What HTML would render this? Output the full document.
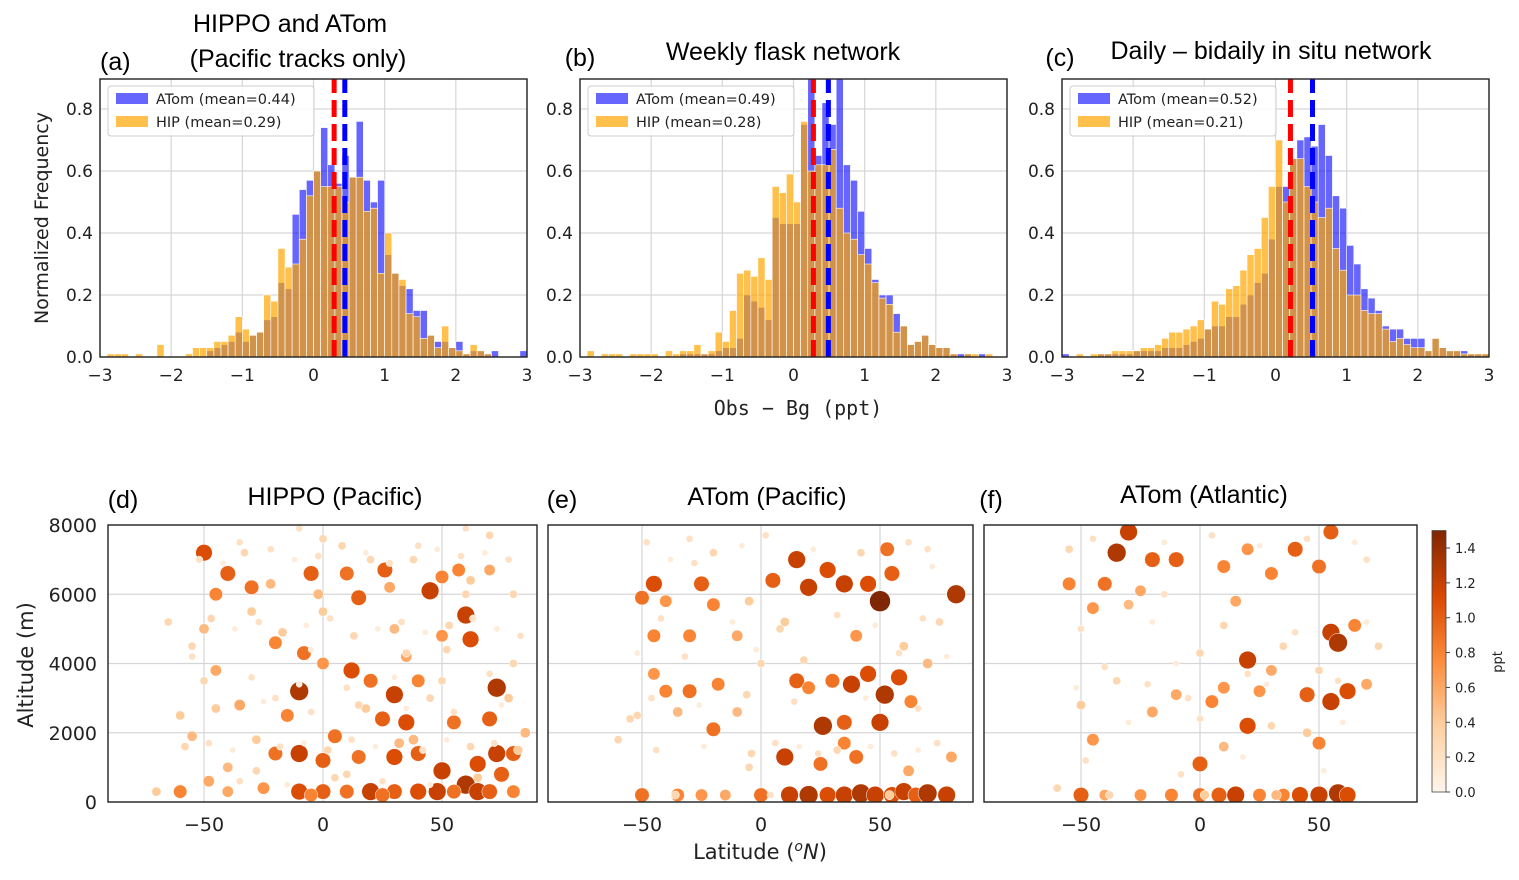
<!DOCTYPE html>
<html><head><meta charset="utf-8"><style>
body{margin:0;background:#fff;width:1519px;height:880px;overflow:hidden}
svg{display:block;font-family:"Liberation Sans","DejaVu Sans",sans-serif}
.tk{font-family:"DejaVu Sans","Liberation Sans",sans-serif;font-size:17px;fill:#222}
.ttl{font-size:25px;fill:#000}
.lg{font-family:"DejaVu Sans",sans-serif;font-size:14.5px;fill:#222}
</style></head><body>
<svg id="fig" width="1519" height="880">
<g id="topg"></g><g id="botg"></g>
<text x="100" y="70" class="ttl">(a)</text>
<text x="290" y="32" class="ttl" text-anchor="middle">HIPPO and ATom</text>
<text x="298" y="67" class="ttl" text-anchor="middle">(Pacific tracks only)</text>
<text x="580" y="66" class="ttl" text-anchor="middle">(b)</text>
<text x="783" y="60" class="ttl" text-anchor="middle">Weekly flask network</text>
<text x="1060" y="66" class="ttl" text-anchor="middle">(c)</text>
<text x="1271" y="59" class="ttl" text-anchor="middle">Daily – bidaily in situ network</text>
<text transform="translate(48,218) rotate(-90)" text-anchor="middle" style="font-family:'DejaVu Sans',sans-serif;font-size:19px;fill:#222">Normalized Frequency</text>
<text x="798" y="415" text-anchor="middle" style="font-family:'DejaVu Sans Mono','Liberation Mono',monospace;font-size:20px;fill:#222">Obs − Bg (ppt)</text>
<text x="123" y="508" class="ttl" text-anchor="middle">(d)</text>
<text x="335" y="505" class="ttl" text-anchor="middle">HIPPO (Pacific)</text>
<text x="562" y="508" class="ttl" text-anchor="middle">(e)</text>
<text x="767" y="505" class="ttl" text-anchor="middle">ATom (Pacific)</text>
<text x="991" y="508" class="ttl" text-anchor="middle">(f)</text>
<text x="1204" y="503" class="ttl" text-anchor="middle">ATom (Atlantic)</text>
<text transform="translate(33,665) rotate(-90)" text-anchor="middle" style="font-family:'DejaVu Sans',sans-serif;font-size:21px;fill:#222">Altitude (m)</text>
<text x="760" y="859" text-anchor="middle" style="font-family:'DejaVu Sans',sans-serif;font-size:21px;fill:#222">Latitude (<tspan dy="-8" font-size="14" font-style="italic">o</tspan><tspan dy="8" font-style="italic">N</tspan>)</text>
</svg>
<script>
// ---------- histogram data (bins of 0.1 from -3.0 to 3.0) ----------
const binStart = -3.0, binWidth = 0.1;
const atomA = [0,0,0,0,0,0,0,0,0,0,0,0,0,0,0,.02,.03,.04,.05,.08,.05,.07,.08,.12,.13,.24,.22,.46,.54,.57,.6,.74,.62,.56,.65,.58,.76,.57,.5,.57,.33,.27,.23,.22,.15,.15,.07,.05,.05,.03,.05,.01,.02,.02,.01,.02,0,0,0,.02];
const hipA  = [0,.01,.01,.01,0,.01,0,0,.04,0,0,0,.01,.03,.03,.03,.05,.05,.07,.13,.09,.07,.08,.2,.18,.35,.29,.3,.38,.52,.6,.55,.55,.55,.5,.58,.58,.47,.48,.27,.4,.27,.25,.14,.13,.06,.07,.03,.1,.03,.02,.01,.04,.02,.01,0,0,0,0,0];
const atomB = [0,0,0,0,0,0,0,0,0,0,0,0,0,0,.01,.01,.01,.01,.01,.02,.03,.03,.06,.2,.18,.16,.12,.45,.43,.43,.43,.75,1.0,.65,.82,.75,1.0,.62,.57,.47,.35,.25,.2,.2,.14,.1,.04,.05,.07,.04,.03,.03,.01,.01,.01,0,.01,0,0,0];
const hipB  = [0,.02,0,.01,.01,.01,0,.01,.01,.01,.01,0,.02,.01,.02,.02,.04,.01,.02,.08,.05,.15,.27,.28,.26,.32,.25,.55,.53,.59,.5,.76,.6,.62,.62,.67,.48,.4,.38,.33,.3,.24,.19,.17,.08,.1,.04,.05,.07,.04,.03,.03,.01,0,.01,.01,0,.01,0,0];
const atomC = [.01,0,0,0,0,.01,.01,.01,.01,.01,.02,.02,.02,.02,.03,.03,.03,.04,.05,.06,.09,.1,.1,.13,.13,.17,.2,.24,.27,.38,.55,.55,.64,.7,.71,.68,.75,.65,.52,.48,.36,.3,.22,.19,.15,.1,.09,.09,.06,.06,.06,.02,.06,.03,.02,.02,.02,.01,.01,.01];
const hipC  = [0,0,.01,0,.01,.01,.01,.02,.02,.02,.02,.03,.03,.04,.06,.08,.08,.09,.1,.12,.09,.18,.17,.22,.23,.28,.33,.35,.45,.55,.7,.5,.64,.64,.55,.5,.45,.48,.35,.28,.2,.2,.15,.14,.14,.09,.05,.06,.04,.03,.03,.02,.06,.03,.02,.02,.01,.01,.01,.01];
const meansAtom = [0.44, 0.49, 0.52];
const meansHip  = [0.29, 0.28, 0.21];
const xTicksTop = [-3,-2,-1,0,1,2,3];
const yTicksTop = [0,0.2,0.4,0.6,0.8];

// ---------- scatter data: latitude, altitude (m), value (ppt) ----------
const dLat = [-10,-8,30,35,45,60,62,73,73,-50,-40,-30,-5,15,10,26,50,57,70,-45,-20,0,12,20,40,-45,-35,-15,5,25,55,70,-20,-10,0,15,30,40,50,65,75,80,60,65,-60,-40,-25,-10,0,10,20,30,40,48,55,70,80,-5,25,-55,-50,-30,0,30,60,80,-55,-35,0,40,70,-20,45,80,-60,20,-10,60,85,-40,10,35,50,-2,-70,-65,5,-28,18,38,52,-48,78,
 -52,-42,-33,-22,-12,-2,8,18,28,38,48,58,68,78,-47,-37,-27,-17,-7,3,13,23,33,43,53,63,73,83,-50,-30,-10,10,30,50,70,-45,-25,-5,15,35,55,75,-58,-48,-38,-28,-18,-8,2,12,22,32,42,52,62,72,82,-35,-15,5,25,45,65,-55,-5,35,-22,28,62,-40,15,50];
const dAlt = [3200,4300,3100,2300,6100,5400,4700,3300,1400,7200,6600,6200,6600,5900,6600,6700,6500,6700,6700,6000,4600,4000,3800,3500,3500,3800,2800,2500,1900,2400,2300,2400,1400,1400,1200,1300,1300,1400,900,1100,800,1400,500,300,300,300,400,300,300,300,300,300,300,300,300,300,300,200,200,1900,5000,5500,5500,5000,6000,6000,4500,7500,7600,7400,7700,3000,3000,4000,2500,7000,7900,7900,2000,1000,800,4200,4800,6000,300,5200,700,900,2700,1800,4400,600,3000,
 7000,6900,7200,7300,7000,7100,7400,7200,6900,7000,7300,7100,7200,7000,5300,5000,5200,4900,5100,5300,4800,5000,5200,4900,5100,5300,5000,4800,3500,3600,3400,3300,3600,3500,3700,2700,2900,2600,2800,2700,2600,2800,1600,1700,1500,1800,1600,1700,1500,1800,1600,1700,1500,1800,1600,1700,1500,600,500,700,600,500,700,4200,4400,4300,6300,6200,6400,200,200,200];
const dVal = [1.3,0.9,1.2,1.1,1.2,1.2,1.1,1.3,1.2,1.1,1.0,0.9,1.0,1.0,0.9,1.0,0.8,0.8,0.6,0.8,0.8,0.7,1.1,0.9,0.8,0.6,0.6,0.8,0.9,1.0,0.9,1.0,0.9,1.2,1.0,0.9,1.1,1.0,1.2,1.1,1.0,1.0,1.3,1.2,0.8,0.6,0.7,1.1,1.0,0.9,1.2,1.0,1.1,1.2,0.9,1.0,0.8,0.8,0.9,0.5,0.5,0.4,0.4,0.5,0.3,0.3,0.3,0.2,0.3,0.2,0.3,0.2,0.3,0.3,0.4,0.3,0.2,0.2,0.5,0.5,0.3,0.6,0.7,0.5,0.4,0.3,0.2,0.3,0.4,0.5,0.3,0.6,0.4,
 0.2,0.1,0.3,0.2,0.1,0.2,0.3,0.1,0.2,0.3,0.1,0.2,0.1,0.2,0.3,0.1,0.2,0.4,0.1,0.2,0.3,0.1,0.2,0.1,0.3,0.2,0.1,0.2,0.3,0.2,0.1,0.2,0.1,0.3,0.2,0.4,0.1,0.2,0.3,0.1,0.2,0.1,0.3,0.2,0.1,0.4,0.2,0.1,0.3,0.2,0.1,0.5,0.2,0.1,0.3,0.2,0.4,0.2,0.1,0.3,0.2,0.1,0.4,0.2,0.1,0.3,0.5,0.6,0.4];
const eLat = [-45,-25,-50,-40,-20,5,15,20,28,35,45,50,55,53,82,-45,-30,-10,-45,-40,-30,-18,-35,-20,15,20,30,38,45,52,58,63,35,26,50,-10,10,25,35,40,80,-50,-35,-25,-15,0,12,20,28,35,42,48,55,60,65,70,78,-55,-5,0,60,75,-30,70,-60,-5,40,70,-20,10,62,-52,
 -48,-38,-28,-8,2,22,42,62,72,-42,-12,8,32,48,68,-52,-32,-2,18,58,78,-46,-26,-6,14,44,66,-44,-24,-4,6,16,24,32,46,56,66,74,-36,4,54];
const eAlt = [6300,6300,5900,5800,5700,6400,7000,6200,6700,6300,6300,5800,6600,7300,6000,4800,4800,4800,3700,3200,3200,3400,2600,2100,3500,3300,3500,3400,3700,3100,3600,2900,2300,2200,2300,2600,1300,1100,1700,1300,1300,200,200,200,200,200,200,200,200,200,250,200,200,300,200,250,200,2400,5800,4000,4500,5200,7600,7300,1800,1000,4800,4000,7200,5200,900,2500,
 7500,7000,6900,7400,7700,7300,7200,7500,6800,5300,5200,5000,5400,5100,5300,4300,4200,4400,4100,4300,4200,3000,2800,3100,2900,3000,2700,1500,1600,1400,1700,1600,1400,1500,1600,1400,1500,1700,200,200,200];
const eVal = [1.1,1.0,0.9,0.7,0.8,1.0,1.2,1.2,1.1,1.2,1.1,1.5,1.0,0.9,1.3,0.8,0.8,0.6,0.7,0.8,0.9,0.8,0.5,0.9,1.0,0.8,0.9,1.2,1.1,1.3,1.1,0.8,1.0,1.3,1.2,0.5,1.2,0.9,0.8,0.9,0.6,0.9,0.8,0.7,0.6,0.9,1.2,1.3,1.1,1.2,1.3,1.2,1.1,1.2,1.0,1.3,1.2,0.3,0.4,0.3,0.4,0.3,0.2,0.2,0.3,0.3,0.7,0.5,0.3,0.4,0.6,0.3,
 0.2,0.1,0.2,0.1,0.2,0.1,0.3,0.2,0.1,0.2,0.1,0.3,0.2,0.1,0.2,0.1,0.2,0.1,0.3,0.2,0.1,0.2,0.1,0.3,0.2,0.1,0.2,0.2,0.1,0.3,0.2,0.1,0.2,0.3,0.1,0.2,0.1,0.2,0.3,0.2,0.4];
const fLat = [-30,-35,-20,-10,-40,-55,-45,-25,10,20,30,40,50,55,55,58,65,-30,15,0,20,30,-10,5,10,25,45,55,62,70,-50,-20,20,-45,0,10,50,-50,-40,-25,-12,0,8,15,25,35,42,50,58,62,-60,-5,70,75,-55,35,-15,45,-35,
 -45,-15,5,25,45,65,-50,-20,10,40,70,-40,-10,20,50,-52,-22,28,58,-30,0,30,60,-48,18,-8,52,-38,2,32];
const fAlt = [7800,7200,7000,7000,6300,6300,5600,6100,6800,7300,6600,7300,6800,7800,4900,4600,5100,5700,5800,4300,4100,3800,3100,2900,3300,3200,3100,2900,3200,3400,2800,2600,2200,1800,1100,1600,1700,200,200,200,200,200,200,200,200,200,200,200,250,200,400,3000,7000,4500,7300,4500,6000,2000,3500,
 7600,7500,7700,7400,7600,7500,5000,5200,5100,4900,5200,3900,4000,3700,3800,3300,3400,3400,3500,2300,2400,2200,2300,1200,1300,800,900,200,200,200];
const fVal = [1.2,1.3,1.0,1.0,0.9,0.8,0.7,0.6,0.8,0.7,0.8,1.0,0.9,1.0,1.2,1.3,0.8,0.5,0.6,0.3,1.2,0.6,0.6,0.8,0.7,0.7,1.0,1.2,1.1,0.6,0.4,0.6,1.1,0.7,1.0,0.5,0.8,1.0,0.6,0.7,0.8,0.9,1.0,1.2,0.8,0.8,1.1,1.2,1.3,1.1,0.3,0.2,0.2,0.3,0.3,0.3,0.2,0.4,0.3,
 0.2,0.1,0.2,0.1,0.2,0.1,0.2,0.1,0.3,0.2,0.1,0.2,0.1,0.2,0.3,0.1,0.2,0.1,0.2,0.1,0.2,0.3,0.1,0.2,0.1,0.2,0.1,0.3,0.4,0.5];
const xTicksBot = [-50,0,50];
const yTicksBot = [0,2000,4000,6000,8000];
const cbTicks = [0.0,0.2,0.4,0.6,0.8,1.0,1.2,1.4];

const NS='http://www.w3.org/2000/svg';
function mk(tag, attrs, parent){const e=document.createElementNS(NS,tag);for(const k in attrs)e.setAttribute(k,attrs[k]);parent.appendChild(e);return e;}
const gTop=document.getElementById('topg'), gBot=document.getElementById('botg');

// ---------- histograms ----------
const panelsTop=[{x0:100,atom:atomA,hip:hipA,k:'a'},{x0:580,atom:atomB,hip:hipB,k:'b'},{x0:1062,atom:atomC,hip:hipC,k:'c'}];
const tY0=357, tY1=79, tW=427;
panelsTop.forEach((p,pi)=>{
  const sx=v=>p.x0+(v+3)/6*tW, sy=v=>tY0-v*310;
  const g=mk('g',{},gTop);
  
  
  const cp=mk('clipPath',{id:'cp'+p.k},g); mk('rect',{x:p.x0,y:tY1,width:tW,height:tY0-tY1},cp);
  xTicksTop.forEach(t=>{
    const l=mk('line',{x1:sx(t),x2:sx(t),y1:tY1,y2:tY0,stroke:'#d6d6d6','stroke-width':1.2},g);
     
    const tx=mk('text',{x:sx(t),y:381,'text-anchor':'middle',class:'tk'},g);
    tx.textContent=t<0?'−'+(-t):String(t);
     
  });
  yTicksTop.forEach(t=>{
    const l=mk('line',{x1:p.x0,x2:p.x0+tW,y1:sy(t),y2:sy(t),stroke:'#d6d6d6','stroke-width':1.2},g);
     
    const tx=mk('text',{x:p.x0-7,y:sy(t)+6,'text-anchor':'end',class:'tk'},g);
    tx.textContent=t.toFixed(1);
     
  });
  const bars=mk('g',{'clip-path':'url(#cp'+p.k+')'},g);
  p.atom.forEach((v,i)=>{ if(v<=0)return;
    const r=mk('rect',{x:sx(binStart+i*binWidth),y:sy(v),width:tW/60,height:v*310,fill:'rgb(0,0,255)','fill-opacity':0.6,stroke:'#fff','stroke-width':0.6},bars);
     
  });
  p.hip.forEach((v,i)=>{ if(v<=0)return;
    const r=mk('rect',{x:sx(binStart+i*binWidth),y:sy(v),width:tW/60,height:v*310,fill:'rgb(255,165,0)','fill-opacity':0.7,stroke:'#fff','stroke-width':0.6},bars);
     
  });
  const mh=mk('line',{x1:sx(meansHip[pi]),x2:sx(meansHip[pi]),y1:tY0,y2:tY1,stroke:'#f00','stroke-width':5,'stroke-dasharray':'17,7'},bars);
   
  const ma=mk('line',{x1:sx(meansAtom[pi]),x2:sx(meansAtom[pi]),y1:tY0,y2:tY1,stroke:'#00f','stroke-width':5,'stroke-dasharray':'17,7'},bars);
   
  const fr=mk('rect',{x:p.x0,y:tY1,width:tW,height:tY0-tY1,fill:'none',stroke:'#222','stroke-width':1.4},g);
   
  const lg=mk('g',{},g);
   
  mk('rect',{x:p.x0+8,y:86,width:206,height:50,rx:3,fill:'#fff','fill-opacity':0.85,stroke:'#ccc'},lg);
  mk('rect',{x:p.x0+16,y:93,width:32,height:11,fill:'rgb(0,0,255)','fill-opacity':0.6},lg);
  mk('rect',{x:p.x0+16,y:116,width:32,height:11,fill:'rgb(255,165,0)','fill-opacity':0.7},lg);
  const t1=mk('text',{x:p.x0+56,y:104,class:'lg'},lg); t1.textContent='ATom (mean='+meansAtom[pi].toFixed(2)+')';
   
  const t2=mk('text',{x:p.x0+56,y:127,class:'lg'},lg); t2.textContent='HIP (mean='+meansHip[pi].toFixed(2)+')';
   
});

// ---------- colormap ----------
const stops=[[0,[255,245,235]],[0.25,[253,208,162]],[0.5,[253,141,60]],[0.75,[217,72,1]],[1,[127,39,4]]];
function cmap(v){let t=Math.max(0,Math.min(1,v/1.5));for(let i=1;i<stops.length;i++){if(t<=stops[i][0]){const a=stops[i-1],b=stops[i],f=(t-a[0])/(b[0]-a[0]);return 'rgb('+a[1].map((c,j)=>Math.round(c+(b[1][j]-c)*f)).join(',')+')';}}return 'rgb(127,39,4)';}

// ---------- scatter panels ----------
const panelsBot=[{x0:108,x1:537,c0:323,k:'d',lat:dLat,alt:dAlt,val:dVal,ylab:true},
                 {x0:548,x1:973,c0:761,k:'e',lat:eLat,alt:eAlt,val:eVal},
                 {x0:984,x1:1417,c0:1200,k:'f',lat:fLat,alt:fAlt,val:fVal}];
const bY0=802,bY1=525;
panelsBot.forEach(p=>{
  const sx=v=>p.c0+v*2.38, sy=v=>bY0-v/8000*(bY0-bY1);
  const g=mk('g',{},gBot);
  
  
  const cp=mk('clipPath',{id:'cp'+p.k},g); mk('rect',{x:p.x0,y:bY1,width:p.x1-p.x0,height:bY0-bY1},cp);
  xTicksBot.forEach(t=>{
    const l=mk('line',{x1:sx(t),x2:sx(t),y1:bY1,y2:bY0,stroke:'#d6d6d6','stroke-width':1.2},g);
     
    const tx=mk('text',{x:sx(t),y:831,'text-anchor':'middle',class:'tk',style:'font-size:19px'},g);
    tx.textContent=t<0?'−'+(-t):String(t);
     
  });
  yTicksBot.forEach(t=>{
    const l=mk('line',{x1:p.x0,x2:p.x1,y1:sy(t),y2:sy(t),stroke:'#d6d6d6','stroke-width':1.2},g);
     
    if(p.ylab){const tx=mk('text',{x:97,y:sy(t)+7,'text-anchor':'end',class:'tk',style:'font-size:19px'},g);
      tx.textContent=String(t);
       }
  });
  const pts=mk('g',{'clip-path':'url(#cp'+p.k+')'},g);
  p.lat.forEach((la,i)=>{
    const v=p.val[i];
    const c=mk('circle',{cx:sx(la),cy:sy(p.alt[i]),r:2.5+v*5.3,fill:cmap(v),stroke:'#fff','stroke-width':0.5},pts);
     
  });
  const fr=mk('rect',{x:p.x0,y:bY1,width:p.x1-p.x0,height:bY0-bY1,fill:'none',stroke:'#222','stroke-width':1.4},g);
   
});

// ---------- colorbar ----------
const cb=mk('g',{},gBot);
 
const defs=mk('defs',{},cb);
const lgr=mk('linearGradient',{id:'cbg',x1:0,y1:1,x2:0,y2:0},defs);
stops.forEach(s=>mk('stop',{offset:s[0],'stop-color':'rgb('+s[1].join(',')+')'},lgr));
const cbY0=792, cbScale=(792-548)/1.4;
mk('rect',{x:1432,y:cbY0-1.5*cbScale,width:14,height:1.5*cbScale,fill:'url(#cbg)',stroke:'#444','stroke-width':0.8},cb);
cbTicks.forEach(t=>{
  const y=cbY0-t*cbScale;
  mk('line',{x1:1446,x2:1450,y1:y,y2:y,stroke:'#444'},cb);
  const tx=mk('text',{x:1455,y:y+5,style:"font-family:'DejaVu Sans',sans-serif;font-size:13px;fill:#222"},cb);
  tx.textContent=t.toFixed(1);
   
});
const cbl=mk('text',{transform:'translate(1502,662) rotate(-90)','text-anchor':'middle',style:"font-family:'DejaVu Sans',sans-serif;font-size:13px;fill:#222"},cb);
cbl.textContent='ppt';
 
</script>
</body></html>
